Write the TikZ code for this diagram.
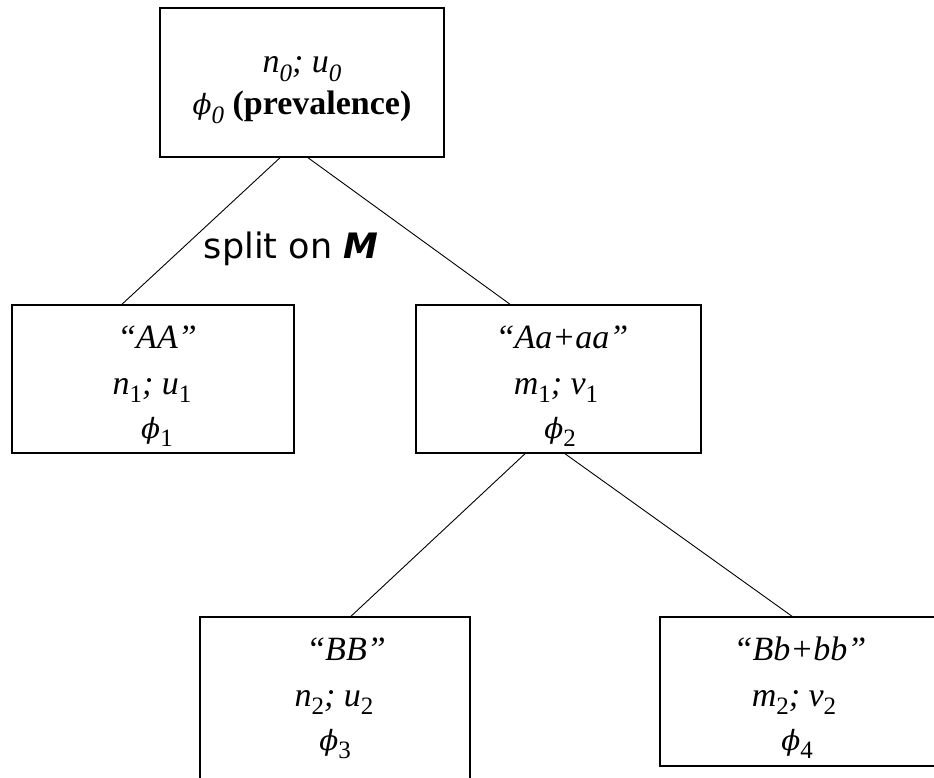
\documentclass[tikz,border=0pt]{standalone}
\usepackage{fontspec}
\setmainfont{Liberation Serif}
\newfontfamily\splitfont{DejaVu Sans}
\newfontfamily\phifont[Scale=0.82]{DejaVu Serif}
\newcommand\ph{{\phifont\itshape ϕ}}
\newcommand\sbs[1]{\raisebox{-0.25em}{\fontsize{25}{25}\selectfont\upshape #1}}
\newcommand\sbi[1]{\raisebox{-0.25em}{\fontsize{25}{25}\selectfont #1}}
\begin{document}
\begin{tikzpicture}[x=1pt,y=-1pt,
  box/.style={draw, line width=1.5pt, inner sep=0pt},
  txt/.style={anchor=base, inner sep=0pt, font=\fontsize{34}{40}\selectfont\itshape},
  link/.style={line width=0.9pt}]
\useasboundingbox (0,0) rectangle (934,778);
% boxes
\node[box, minimum width=284pt, minimum height=149pt] (root) at (302,82.5) {};
\node[box, minimum width=282pt, minimum height=148pt] (aa) at (153,379) {};
\node[box, minimum width=285pt, minimum height=148pt] (aaa) at (558.5,379) {};
\node[box, minimum width=270pt, minimum height=165pt] (bb) at (335,699.5) {};
\node[box, minimum width=280pt, minimum height=149pt] (bbb) at (800,691.5) {};
% texts
\node[txt] (r1) at (302,73) {n\sbi{0}; u\sbi{0}};
\node[txt] (r2) at (302,115) {\ph\sbi{0} {\upshape\bfseries (prevalence)}};
\node[txt] (a1) at (157,348) {“AA”};
\node[txt] (a2) at (152,394) {n\sbs{1}; u\sbs{1}};
\node[txt] (a3) at (157,438) {\ph\sbs{1}};
\node[txt] (b1) at (562,348) {“Aa+aa”};
\node[txt] (b2) at (556,394) {m\sbs{1}; v\sbs{1}};
\node[txt] (b3) at (560,438) {\ph\sbs{2}};
\node[txt] (c1) at (346,660) {“BB”};
\node[txt] (c2) at (334,706) {n\sbs{2}; u\sbs{2}};
\node[txt] (c3) at (335,750) {\ph\sbs{3}};
\node[txt] (d1) at (800,660) {“Bb+bb”};
\node[txt] (d2) at (794,706) {m\sbs{2}; v\sbs{2}};
\node[txt] (d3) at (797,750) {\ph\sbs{4}};
\node[anchor=base, inner sep=0pt, font=\splitfont\fontsize{35}{35}\selectfont] (split) at (291,258) {split on \textbf{\textit{M}}};
% connectors
\draw[link] ([xshift=-22pt]root.south) -- ([xshift=-31pt]aa.north);
\draw[link] ([xshift=6pt]root.south) -- ([xshift=-48.5pt]aaa.north);
\draw[link] ([xshift=-33.5pt]aaa.south) -- ([xshift=16pt]bb.north);
\draw[link] ([xshift=6.5pt]aaa.south) -- ([xshift=-8pt]bbb.north);
\end{tikzpicture}
\end{document}
